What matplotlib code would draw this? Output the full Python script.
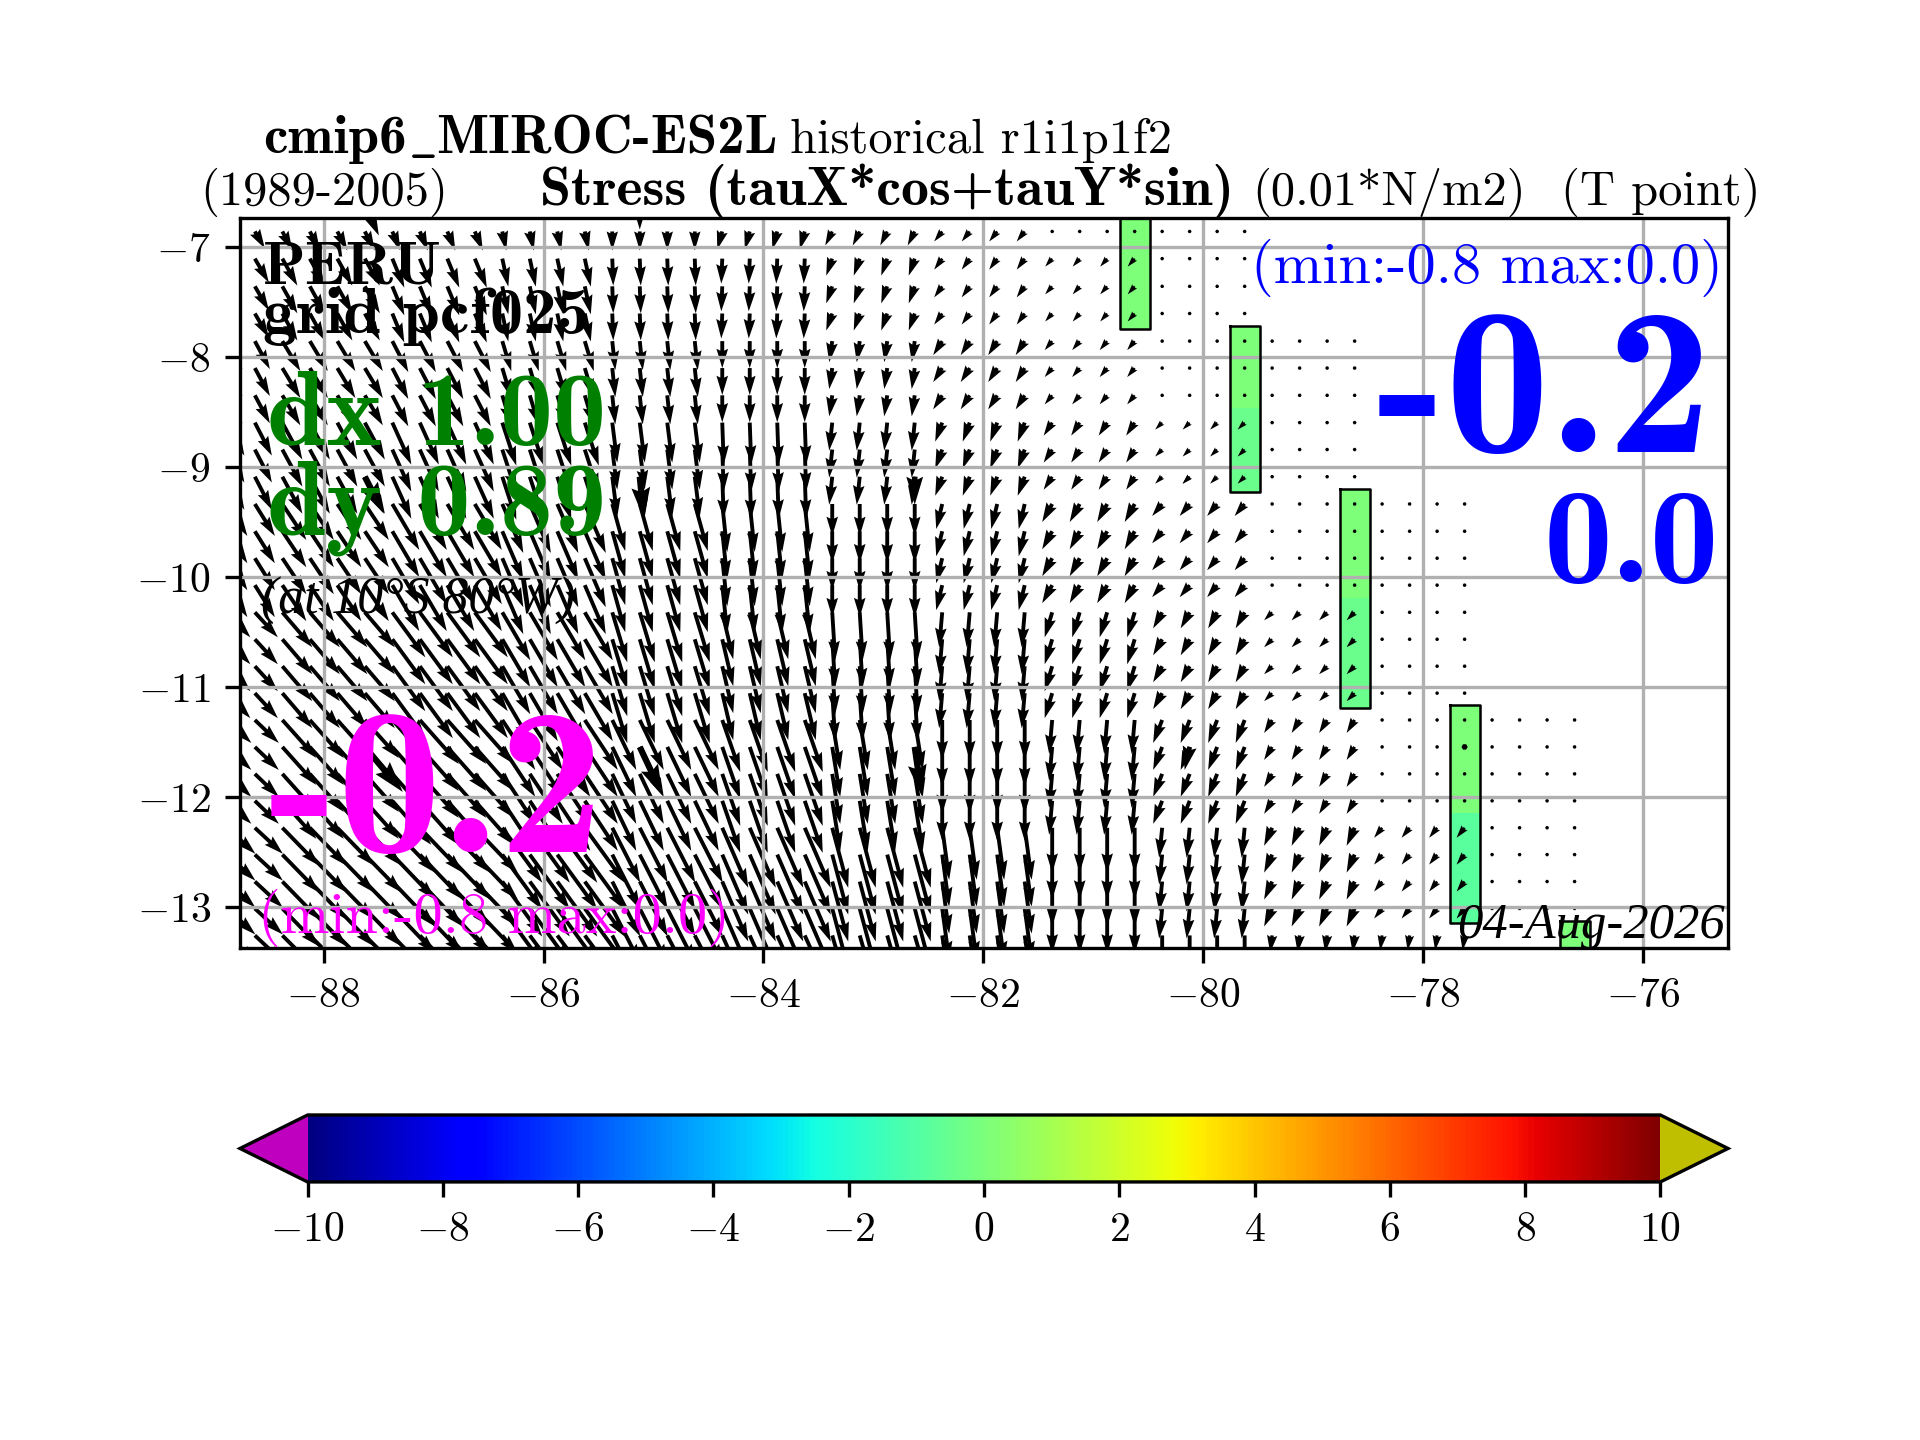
import numpy as np
import matplotlib
matplotlib.use('Agg')
import matplotlib.pyplot as plt

plt.rcParams['font.family'] = ['cmr10', 'DejaVu Serif']
plt.rcParams['mathtext.fontset'] = 'cm'
plt.rcParams['axes.formatter.use_mathtext'] = True
plt.rcParams['axes.unicode_minus'] = True

# Grid of the vectors (0.25 deg mercator grid)
lon = np.arange(-89.375, -76.5, 0.25)
lat = np.array([-6.855, -7.102, -7.354, -7.601, -7.852, -8.097, -8.345, -8.593, -8.838,
                -9.085, -9.333, -9.581, -9.826, -10.071, -10.318, -10.563, -10.808,
                -11.053, -11.297, -11.542, -11.787, -12.032, -12.277, -12.521, -12.766,
                -13.011, -13.256])

# The model field is on a coarse grid: each coarse cell repeats on the fine grid
lon_repeat = [4, 4, 4, 4, 4, 4, 4, 4, 4, 4, 4, 4, 4]
lat_repeat = [1, 3, 3, 3, 4, 4, 4, 4, 1]

nan = np.nan
tau_x = np.array([
    [10, 10,  8,  4,  0, -5,  -7, -8,    0,    0, nan, nan, nan],
    [14, 15, 12,  6,  1, -1,  -6, -8,   -7,    0, nan, nan, nan],
    [15, 18, 16,  9,  3,  0,  -3, -9, -7.5,    0,   0, nan, nan],
    [17, 20, 19, 14,  5, 1.5, -3, -7, -8.5,   -7,   0, nan, nan],
    [20, 24, 27, 21, 13,  5,   0, -6,  -10,  -10,   0,   0, nan],
    [23, 30, 33, 28, 15, 11,   3, -3, -7.5,   -9,  -8,   0, nan],
    [24, 34, 39, 33, 24, 18,   8,  0,   -3,   -9,  -8,   0,   0],
    [28, 37, 43, 40, 28, 26,  16,  7,    0,   -3,  -8,  -8,   0],
    [30, 40, 46, 43, 30, 28,  18,  8,    0,    0,  -2,  -2, nan]], dtype=float)
tau_y = np.array([
    [-17, -19, -19, -19, -19, -18, -14, -10,   0,   0, nan, nan, nan],
    [-24, -27, -29, -28, -27, -25, -17, -11,  -8,   0, nan, nan, nan],
    [-28, -30, -31, -30, -29, -27, -21, -14,  -9,   0,   0, nan, nan],
    [-33, -37, -42, -43, -40, -42, -28, -19, -13,  -7,   0, nan, nan],
    [-32, -36, -46, -49, -47, -48, -32, -25, -18, -12,   0,   0, nan],
    [-25, -35, -45, -48, -50, -47, -48, -35, -25, -16,  -8,   0, nan],
    [-23, -38, -44, -50, -50, -52, -50, -40, -34, -23, -13,   0,   0],
    [-26, -38, -45, -55, -55, -60, -60, -52, -45, -30, -18, -10,   0],
    [-28, -40, -48, -58, -58, -62, -62, -55, -47, -35, -17, -15, nan]], dtype=float)

# Sparse overlay of thicker arrows
sparse_lon = [-87.625, -85.125, -82.625, -80.125, -77.625]
sparse_lat = [-6.61, -9.085, -11.542]
sparse_x = np.array([[14, 0, -7, 0, nan],
                     [19, 4, 0, -7, nan],
                     [38, 23, 7, -5, 0]], dtype=float)
sparse_y = np.array([[-31, -25, -14, 0, nan],
                     [-37, -42, -28, -7, nan],
                     [-45, -49, -49, -23, 0]], dtype=float)

# Coastal strips of the stress (lon, first row, last row, value)
strip_lon = [-80.625, -79.625, -79.625, -78.625, -78.625, -77.625, -77.625, -76.625, -80.625]
strip_first = [0, 4, 7, 10, 14, 18, 22, 26, 1]
strip_last = [0, 6, 9, 13, 17, 21, 25, 26, 3]
strip_value = [0.0, 0.0, -0.4, 0.0, -0.4, 0.0, -0.8, 0.0, 0.0]

cbar_ticks = [-10, -8, -6, -4, -2, 0, 2, 4, 6, 8, 10]
x_ticks = [-88, -86, -84, -82, -80, -78, -76]
y_ticks = [-13, -12, -11, -10, -9, -8, -7]

u = np.repeat(np.repeat(tau_x, lat_repeat, axis=0), lon_repeat, axis=1)
v = np.repeat(np.repeat(tau_y, lat_repeat, axis=0), lon_repeat, axis=1)

dlat = np.diff(lat)
lat_edges = np.concatenate([[lat[0] - dlat[0] / 2], lat[:-1] + dlat / 2, [lat[-1] + dlat[-1] / 2]])
lon_edges = np.append(lon - 0.125, lon[-1] + 0.125)

grid = np.full((len(lat), len(lon)), np.nan)
for slon, first, last, val in zip(strip_lon, strip_first, strip_last, strip_value):
    grid[first:last + 1, np.argmin(np.abs(lon - slon))] = val

cmap = plt.get_cmap('jet').copy()
cmap.set_under('m')
cmap.set_over('y')

fig = plt.figure(figsize=(6.4, 4.8), dpi=300)
ax = fig.add_axes([0.125, 0.341, 0.775, 0.5085])
mesh = ax.pcolormesh(lon_edges, lat_edges, np.ma.masked_invalid(grid), cmap=cmap, vmin=-10, vmax=10,
                     edgecolors='face', linewidth=0.6)

ax.quiver(lon, lat, u, v, scale_units='dots', scale=1, width=0.0026)
ax.quiver(sparse_lon, sparse_lat, sparse_x, sparse_y, scale_units='dots', scale=1, width=0.0042)

# outline of the coast strips
pad = 0.012
for k in [[0, 8], [1, 2], [3, 4], [5, 6], [7]]:
    i = np.argmin(np.abs(lon - strip_lon[k[0]]))
    first = min(strip_first[j] for j in k)
    last = max(strip_last[j] for j in k)
    x0, x1 = lon_edges[i] - pad, lon_edges[i + 1] + pad
    y0, y1 = lat_edges[first] + pad, lat_edges[last + 1] - pad
    ax.plot([x0, x1, x1, x0, x0], [y0, y0, y1, y1, y0], 'k', lw=0.6, solid_joinstyle='round')

ax.set_aspect('equal', adjustable='box', anchor='C')
ax.set_xlim(-88.76, -75.23)
ax.set_ylim(-13.37, -6.73)
ax.set_xticks(x_ticks)
ax.set_yticks(y_ticks)
ax.grid(True)

cax = fig.add_axes([0.125, 0.1792, 0.775, 0.0465])
cbar = fig.colorbar(mesh, cax=cax, orientation='horizontal', extend='both', ticks=cbar_ticks)


def put(x, y, s, **kw):
    # position given in pixels of the final picture, y from the top
    return fig.text(x / 1920, 1 - y / 1440, s, va='baseline', **kw)


bold = ['cmb10', 'DejaVu Serif']
ital = ['Liberation Serif']

# cmb10 has no usable underscore, so the first title is written in three pieces
renderer = fig.canvas.get_renderer()
x_title = 263
for piece, fam in [('cmip6', bold), (r'$\_$', None), ('MIROC-ES2L', bold)]:
    t = put(x_title, 153, piece, family=fam, fontsize=13.2) if fam else put(x_title, 153, piece, fontsize=13.2)
    x_title = t.get_window_extent(renderer).x1 + 1

put(790, 153, 'historical r1i1p1f2', fontsize=11.65)
put(200, 205, '(1989-2005)', fontsize=11.65)
put(540, 205, 'Stress (tauX*cos+tauY*sin)', family=bold, fontsize=13.4)
put(1252, 205, '(0.01*N/m2)', fontsize=11.65)
put(1561, 205, '(T point)', fontsize=11.65)

put(263, 283, 'PERU', family=bold, fontsize=15)
put(263, 333, 'grid pcf025', family=bold, fontsize=16)
put(437, 445, 'dx 1.00', family=bold, fontsize=25.5, color='green', ha='center')
put(437, 534, 'dy 0.89', family=bold, fontsize=25.5, color='green', ha='center')
put(261, 614, '(at 10\N{DEGREE SIGN}S 80\N{DEGREE SIGN}W)', family=ital, style='italic', fontsize=12.4)
put(436, 852, '-0.2', family=bold, fontsize=50, color='magenta', ha='center')
put(258, 933, '(min:-0.8 max:0.0)', fontsize=14.05, color='magenta')
put(1723, 283, '(min:-0.8 max:0.0)', fontsize=14.05, color='blue', ha='right')
put(1544, 452, '-0.2', family=bold, fontsize=50, color='blue', ha='center')
put(1631, 582, '0.0', family=bold, fontsize=33, color='blue', ha='center')
put(1725, 938, '04-Aug-2026', family=ital, style='italic', fontsize=12.2, ha='right')

fig.savefig('out.png', dpi=300)
